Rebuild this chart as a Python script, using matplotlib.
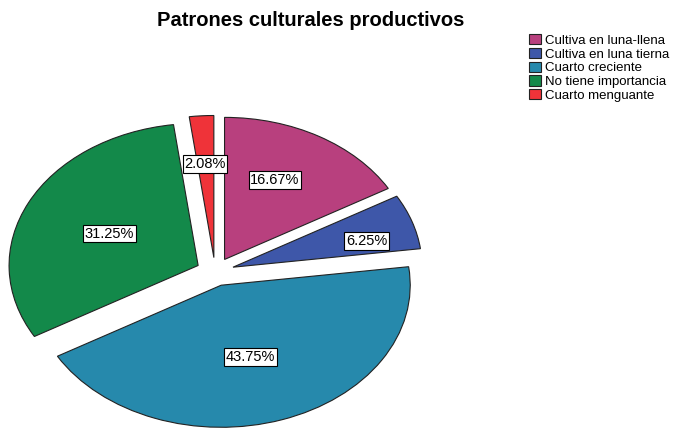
import numpy as np
import matplotlib.pyplot as plt

plt.rcParams['font.family'] = ['Liberation Sans', 'DejaVu Sans']

title = 'Patrones culturales productivos'
categories = ['Cultiva en luna-llena', 'Cultiva en luna tierna', 'Cuarto creciente',
              'No tiene importancia', 'Cuarto menguante']
percents = [16.67, 6.25, 43.75, 31.25, 2.08]
labels = ['16.67%', '6.25%', '43.75%', '31.25%', '2.08%']
colors = ['#b8407e', '#3e57a9', '#2689ac', '#13894a', '#ef3339']
# label placement relative to each exploded wedge (radius, angle tweak in degrees)
label_dist = [0.62, 0.73, 0.53, 0.52, 0.66]
label_turn = [4.5, -4.0, -1.7, 0.8, 0.3]

fig = plt.figure(figsize=(6.85, 4.30), dpi=100)
ax = fig.add_axes([-0.031, -0.045, 0.69, 0.826])

wedges, _ = ax.pie(percents, colors=colors, startangle=90, counterclock=False,
                   explode=[0.1] * len(percents),
                   wedgeprops=dict(edgecolor='#222222', linewidth=0.8))
ax.set_aspect('auto')
ax.set_xlim(-1.25, 1.25)
ax.set_ylim(-1.25, 1.25)

for w, lab, d, t in zip(wedges, labels, label_dist, label_turn):
    ang = np.deg2rad((w.theta1 + w.theta2) / 2 + t)
    cx, cy = w.center
    ax.text(cx + d * np.cos(ang), cy + d * np.sin(ang), lab, ha='center', va='center',
            fontsize=10.5, bbox=dict(boxstyle='square,pad=0.12', fc='white', ec='black', lw=0.8))

fig.text(0.453, 0.953, title, ha='center', va='center', fontsize=14.5, fontweight='bold')

fig.legend(wedges, categories, loc='upper left', bbox_to_anchor=(0.772, 0.92),
           frameon=False, fontsize=9.5, handlelength=0.9, handleheight=0.8,
           handletextpad=0.3, labelspacing=0.08, borderaxespad=0, borderpad=0)

fig.savefig('out.png', dpi=100)
